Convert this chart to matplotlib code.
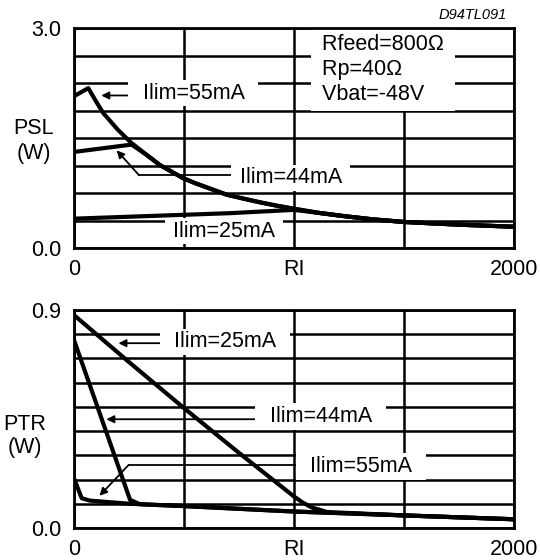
import matplotlib
matplotlib.use("Agg")
import matplotlib.pyplot as plt
import numpy as np

plt.rcParams['font.family'] = ['Liberation Sans', 'DejaVu Sans']

# ---------------- data ----------------
# Top chart: PSL (W) vs RL (ohm)
rl_psl_55 = [0, 65, 100, 133, 200, 262, 330, 391, 450, 497, 550, 600, 650, 694, 775, 850, 925, 1000, 1110, 1226, 1360, 1500, 1750, 2000]
psl_55 = [2.07, 2.18, 2.00, 1.84, 1.61, 1.43, 1.27, 1.13, 1.03, 0.95, 0.885, 0.83, 0.775, 0.727, 0.67, 0.62, 0.575, 0.535, 0.48, 0.435, 0.39, 0.355, 0.318, 0.29]
rl_psl_44 = [0, 262, 330, 391, 450, 497, 550, 600, 650, 694, 775, 850, 925, 1000, 1110, 1226, 1360, 1500, 1750, 2000]
psl_44 = [1.31, 1.41, 1.27, 1.13, 1.03, 0.95, 0.885, 0.83, 0.775, 0.727, 0.67, 0.62, 0.575, 0.535, 0.48, 0.435, 0.39, 0.355, 0.318, 0.29]
rl_psl_25 = [0, 709, 1000, 1110, 1226, 1360, 1500, 1750, 2000]
psl_25 = [0.40, 0.475, 0.52, 0.48, 0.435, 0.39, 0.355, 0.318, 0.29]

# Bottom chart: PTR (W) vs RL (ohm)
rl_ptr_25 = [0, 250, 500, 750, 1000, 1040, 1080, 1150, 1500, 2000]
ptr_25 = [0.879, 0.685, 0.495, 0.31, 0.13, 0.105, 0.085, 0.066, 0.052, 0.036]
rl_ptr_44 = [0, 255, 300, 512, 1000, 1500, 2000]
ptr_44 = [0.776, 0.116, 0.098, 0.09, 0.068, 0.052, 0.036]
rl_ptr_55 = [0, 35, 73, 255, 512, 1000, 1500, 2000]
ptr_55 = [0.205, 0.123, 0.113, 0.10, 0.09, 0.068, 0.052, 0.036]

x_ticks = [0, 500, 1000, 1500, 2000]
x_labels = ['0', '', 'RI', '', '2000']
psl_ticks = np.linspace(0, 3.0, 9)
ptr_ticks = np.linspace(0, 0.9, 10)

FS = 15.5
CURVE_LW = 3.0
GRID_LW = 1.8

fig = plt.figure(figsize=(5.4, 5.6), dpi=100)
ax1 = fig.add_axes([74/540, 1-248/560, 440/540, 220/560])
ax2 = fig.add_axes([74/540, 1-528/560, 440/540, 218/560])


def style(ax, yticks, ymax, ylab):
    ax.set_xlim(0, 2000)
    ax.set_ylim(0, ymax)
    ax.set_xticks(x_ticks)
    ax.set_xticklabels(x_labels, fontsize=FS)
    ax.set_yticks(yticks)
    labels = [''] * len(yticks)
    labels[0] = '0.0'
    labels[-1] = ylab
    ax.set_yticklabels(labels, fontsize=FS)
    ax.tick_params(length=0, pad=9)
    ax.tick_params(axis='x', pad=8)
    ax.grid(True, color='black', lw=GRID_LW, zorder=1)
    ax.set_axisbelow(True)
    for s in ax.spines.values():
        s.set_linewidth(2.0)
        s.set_zorder(6)


style(ax1, psl_ticks, 3.0, '3.0')
style(ax2, ptr_ticks, 0.9, '0.9')

ck = dict(color='black', lw=CURVE_LW, zorder=5, solid_joinstyle='round')
ax1.plot(rl_psl_55, psl_55, **ck)
ax1.plot(rl_psl_44, psl_44, **ck)
ax1.plot(rl_psl_25, psl_25, **ck)
ax2.plot(rl_ptr_25, ptr_25, **ck)
ax2.plot(rl_ptr_44, ptr_44, **ck)
ax2.plot(rl_ptr_55, ptr_55, **ck)

box = dict(boxstyle='square,pad=0.12', fc='white', ec='none')
arr = dict(arrowstyle='-|>', lw=1.3, color='black', mutation_scale=11,
           shrinkA=0, shrinkB=0)
LLW = 1.3


def label(ax, x, y, s):
    ax.text(x, y, s, fontsize=FS, ha='center', va='center', bbox=box, zorder=4)


def arrow(ax, x0, y0, x1, y1):
    ax.annotate('', xy=(x1, y1), xytext=(x0, y0), arrowprops=arr, zorder=3)


# top annotations
label(ax1, 543, 2.11, '  Ilim=55mA  ')
arrow(ax1, 249, 2.08, 124, 2.08)
ax1.text(1101, 2.43, ' Rfeed=800Ω \n Rp=40Ω\n Vbat=-48V', fontsize=FS, ha='left',
         va='center', linespacing=1.25, zorder=4,
         bbox=dict(boxstyle='square,pad=0.25', fc='white', ec='none'))
label(ax1, 984, 0.955, ' Ilim=44mA ')
ax1.plot([741, 296], [0.991, 0.991], color='black', lw=LLW, zorder=3)
arrow(ax1, 296, 0.991, 194, 1.332)
label(ax1, 680, 0.227, ' Ilim=25mA ')

# bottom annotations
label(ax2, 686, 0.769, '  Ilim=25mA  ')
arrow(ax2, 389, 0.763, 202, 0.763)
label(ax2, 1120, 0.460, '  Ilim=44mA  ')
arrow(ax2, 827, 0.449, 147, 0.449)
label(ax2, 1304, 0.254, '  Ilim=55mA  ')
ax2.plot([1007, 249], [0.261, 0.261], color='black', lw=LLW, zorder=3)
arrow(ax2, 249, 0.261, 116, 0.133)

# side labels
fig.text(33.5/540, 1-141/560, 'PSL\n(W)', fontsize=FS, ha='center', va='center',
         linespacing=1.25)
fig.text(25/540, 1-436/560, 'PTR\n(W)', fontsize=FS, ha='center', va='center',
         linespacing=1.15)
fig.text(507/540, 1-15/560, 'D94TL091', fontsize=10.5, style='italic',
         ha='right', va='center')

fig.savefig('out.png', dpi=100)
